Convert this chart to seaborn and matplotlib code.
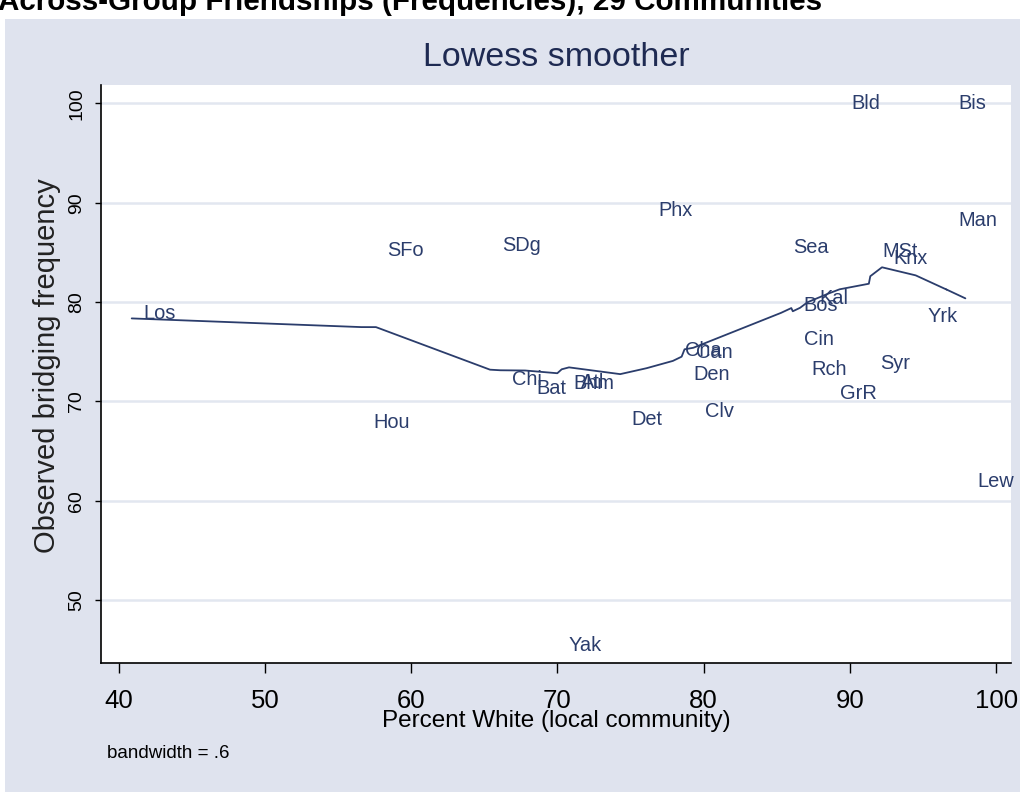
import numpy as np
import pandas as pd
import matplotlib
matplotlib.use("Agg")
import matplotlib.pyplot as plt
from matplotlib.patches import Rectangle
import seaborn as sns

# ---------------- data ----------------
communities = ["Los", "Hou", "SFo", "SDg", "Chi", "Bat", "Bhm", "Atl", "Yak", "Det",
               "Phx", "Cha", "Can", "Den", "Clv", "Sea", "Bos", "Kal", "Cin", "Rch",
               "GrR", "Bld", "Syr", "MSt", "Knx", "Yrk", "Bis", "Man", "Lew"]
pct_white = [40.9, 56.6, 57.6, 65.4, 66.1, 67.8, 70.3, 70.8, 70.0, 74.3,
             76.1, 77.9, 78.7, 78.5, 79.3, 85.3, 86.0, 87.1, 86.1, 86.6,
             88.5, 89.3, 91.3, 91.4, 92.2, 94.5, 96.6, 96.6, 97.9]
bridging = [78.9, 67.9, 85.2, 85.7, 72.2, 71.3, 71.8, 71.9, 45.5, 68.2,
            89.2, 75.1, 74.9, 72.7, 69.0, 85.5, 79.7, 80.4, 76.2, 73.2,
            70.8, 100.0, 73.8, 85.1, 84.4, 78.6, 100.0, 88.2, 61.9]
x_ticks = [40, 50, 60, 70, 80, 90, 100]
y_ticks = [50, 60, 70, 80, 90, 100]
bandwidth = 0.6

df = pd.DataFrame({"name": communities, "x": pct_white, "y": bridging})


def stata_lowess(x, y, bw):
    """Stata-style lowess (tricube weights, local linear, no robustness)."""
    order = np.argsort(np.asarray(x), kind="mergesort")
    xs = np.asarray(x, float)[order]
    ys = np.asarray(y, float)[order]
    n = len(xs)
    k = int(np.floor((n * bw - 0.5) / 2))
    out = np.empty(n)
    for i in range(n):
        lo, hi = max(0, i - k), min(n - 1, i + k)
        xj, yj = xs[lo:hi + 1], ys[lo:hi + 1]
        delta = 1.0001 * max(xs[hi] - xs[i], xs[i] - xs[lo])
        w = (1 - (np.abs(xj - xs[i]) / delta) ** 3) ** 3
        sw = w.sum()
        xm, ym = (w * xj).sum() / sw, (w * yj).sum() / sw
        sxx = (w * (xj - xm) ** 2).sum()
        b = (w * (xj - xm) * (yj - ym)).sum() / sxx if sxx > 0 else 0.0
        out[i] = ym + b * (xs[i] - xm)
    return xs, out


sx, sy = stata_lowess(df["x"], df["y"], bandwidth)
smooth = pd.DataFrame({"x": sx, "y": sy})

# ---------------- style ----------------
sns.set_theme(style="white")
plt.rcParams["font.family"] = ["Liberation Sans", "DejaVu Sans"]

W, H = 1026, 794
fig = plt.figure(figsize=(W / 100, H / 100), dpi=100)
fig.patch.set_facecolor("white")

BG = "#DFE3EE"
NAVY = "#2B3D6C"
fig.patches.append(Rectangle((5 / W, 1 - 792 / H), (1020 - 5) / W, (792 - 19) / H,
                             transform=fig.transFigure, facecolor=BG,
                             edgecolor="none", zorder=-10))

ax_l, ax_r, ax_t, ax_b = 101, 1010.7, 85, 663.3
ax = fig.add_axes([ax_l / W, 1 - ax_b / H, (ax_r - ax_l) / W, (ax_b - ax_t) / H])
ax.set_facecolor("white")

sns.lineplot(data=smooth, x="x", y="y", sort=False, estimator=None,
             color=NAVY, linewidth=1.3, ax=ax, zorder=3)

for _, r in df.iterrows():
    t = ax.annotate(r["name"], (r["x"], r["y"]), xytext=(8.4, 0),
                    textcoords="offset points", ha="left", va="center",
                    fontsize=14.4, color=NAVY, zorder=4)
    t.set_clip_on(True)

ax.set_xlim(38.8, 101.0)
ax.set_ylim(43.66, 101.84)
ax.set_xticks(x_ticks)
ax.set_yticks(y_ticks)
ax.yaxis.grid(True, color="#E2E7F0", linewidth=1.8)
ax.xaxis.grid(False)
ax.set_axisbelow(True)

for s in ["top", "right"]:
    ax.spines[s].set_visible(False)
for s in ["left", "bottom"]:
    ax.spines[s].set_color("black")
    ax.spines[s].set_linewidth(1.2)

ax.tick_params(axis="x", direction="out", length=7.2, width=1.0, color="black",
               labelsize=18.5, pad=11, labelcolor="black", bottom=True)
ax.tick_params(axis="y", direction="out", length=4.5, width=1.0, color="black",
               labelsize=14, pad=7, labelcolor="black", left=True)
for lab in ax.get_yticklabels():
    lab.set_rotation(90)
    lab.set_va("center")

ax.set_xlabel("Percent White (local community)", fontsize=17.5, color="black")
ax.xaxis.set_label_coords(0.5, -0.1)
ax.xaxis.label.set_va("center")
ax.set_ylabel("Observed bridging frequency", fontsize=21, color="#222222")
ax.yaxis.set_label_coords((47 - ax_l) / (ax_r - ax_l), (ax_b - 366) / (ax_b - ax_t))
ax.yaxis.label.set_va("center")

fig.text(556 / W, 1 - 58 / H, "Lowess smoother", ha="center", va="center",
         fontsize=24.5, color="#1E2A52")
fig.text(107 / W, 1 - 753 / H, "bandwidth = .6", ha="left", va="center",
         fontsize=13.5, color="black")
fig.text(-2 / W, 1 - 10 / H, "Across-Group Friendships (Frequencies), 29 Communities",
         ha="left", va="baseline", fontsize=21.3, fontweight="bold", color="black")

fig.savefig("out.png", dpi=100)
